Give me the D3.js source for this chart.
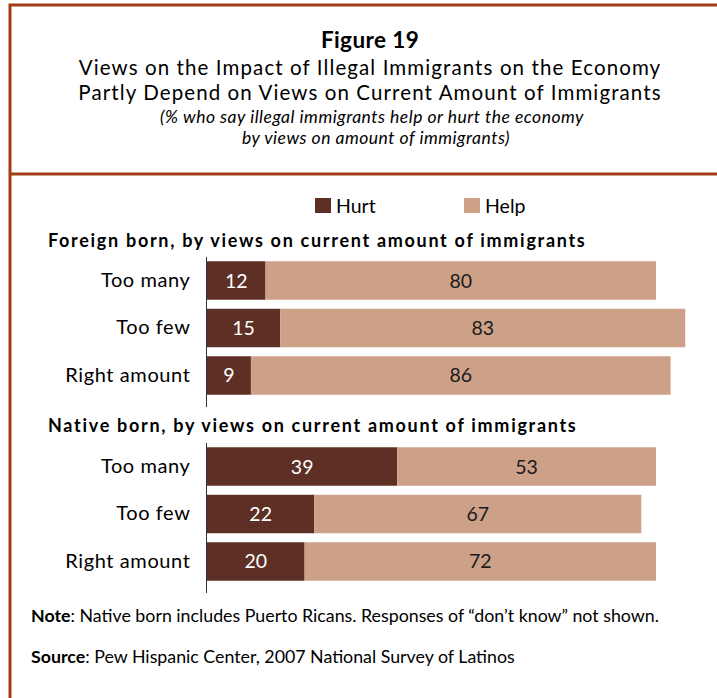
<!DOCTYPE html>
<html><head><meta charset="utf-8">
<script src="https://cdn.jsdelivr.net/npm/d3@7"></script>
<style>body{margin:0;background:#fff}svg{display:block}</style>
</head><body>
<script>
const categories = ["Too many", "Too few", "Right amount"];
const groups = ["Foreign born, by views on current amount of immigrants", "Native born, by views on current amount of immigrants"];
const foreignHurt = [12, 15, 9];
const foreignHelp = [80, 83, 86];
const nativeHurt = [39, 22, 20];
const nativeHelp = [53, 67, 72];
const seriesNames = ["Hurt", "Help"];
const colors = {Hurt: "#5e2f24", Help: "#cda088"};

const W = 717, H = 698;
const font = "Lato, 'Open Sans', sans-serif";
const svg = d3.select("body").append("svg").attr("width", W).attr("height", H);
const border = "#a23c14";

// frame
svg.append("rect").attr("x", 10).attr("y", 5).attr("width", W + 10).attr("height", H + 10)
  .attr("fill", "none").attr("stroke", border).attr("stroke-width", 3);
svg.append("line").attr("x1", 10).attr("x2", W).attr("y1", 174).attr("y2", 174)
  .attr("stroke", border).attr("stroke-width", 3);

// titles
const tg = svg.append("g").attr("font-family", font).attr("fill", "#000").attr("text-anchor", "middle");
tg.append("text").attr("x", 370).attr("y", 48).attr("font-size", 22.5).attr("font-weight", "bold").attr("letter-spacing", 0.4).text("Figure 19");
tg.append("text").attr("x", 370).attr("y", 75).attr("font-size", 20.5).attr("letter-spacing", 1.1).text("Views on the Impact of Illegal Immigrants on the Economy");
tg.append("text").attr("x", 370).attr("y", 100).attr("font-size", 20.5).attr("letter-spacing", 1.1).text("Partly Depend on Views on Current Amount of Immigrants");
tg.append("text").attr("x", 372).attr("y", 123).attr("font-size", 17.5).attr("font-style", "italic").attr("letter-spacing", 0.5).text("(% who say illegal immigrants help or hurt the economy");
tg.append("text").attr("x", 376).attr("y", 144).attr("font-size", 17.5).attr("font-style", "italic").attr("letter-spacing", 0.5).text("by views on amount of immigrants)");

// legend
const legX = [315, 464];
seriesNames.forEach((s, i) => {
  svg.append("rect").attr("x", legX[i]).attr("y", 198).attr("width", 16).attr("height", 15).attr("fill", colors[s]);
  svg.append("text").attr("x", legX[i] + 21).attr("y", 213).attr("font-family", font).attr("font-size", 19.5).text(s);
});

const x = d3.scaleLinear().domain([0, 100]).range([207, 695]);

function panel(title, titleY, top, hurt, help) {
  svg.append("text").attr("x", 48).attr("y", titleY).attr("font-family", font).attr("font-size", 18)
    .attr("font-weight", "bold").attr("letter-spacing", 1.7).text(title);
  const y = d3.scaleBand().domain(categories).range([top, top + 142]).paddingInner(0.19).paddingOuter(0.09);
  const g = svg.append("g");
  const rows = categories.map((c, i) => ({c, hurt: hurt[i], help: help[i]}));
  g.selectAll(".hurt").data(rows).join("rect")
    .attr("x", x(0)).attr("y", d => y(d.c)).attr("width", d => x(d.hurt) - x(0)).attr("height", y.bandwidth())
    .attr("fill", colors.Hurt);
  g.selectAll(".help").data(rows).join("rect")
    .attr("x", d => x(d.hurt)).attr("y", d => y(d.c)).attr("width", d => x(d.hurt + d.help) - x(d.hurt)).attr("height", y.bandwidth())
    .attr("fill", colors.Help);
  g.selectAll(".lh").data(rows).join("text")
    .attr("x", d => (x(0) + x(d.hurt)) / 2).attr("y", d => y(d.c) + y.bandwidth() / 2 + 7)
    .attr("text-anchor", "middle").attr("font-family", font).attr("font-size", 19.5).attr("fill", "#fff")
    .text(d => d.hurt);
  g.selectAll(".lp").data(rows).join("text")
    .attr("x", d => (x(d.hurt) + x(d.hurt + d.help)) / 2).attr("y", d => y(d.c) + y.bandwidth() / 2 + 7)
    .attr("text-anchor", "middle").attr("font-family", font).attr("font-size", 19.5).attr("fill", "#1a1a1a")
    .text(d => d.help);
  const ax = g.append("g").attr("transform", `translate(${x(0) - 0.5},0)`)
    .call(d3.axisLeft(y).tickSize(0).tickPadding(16));
  ax.select(".domain").attr("stroke", "#333").attr("d", `M0,${top}V${top + 150}`);
  ax.selectAll("text").attr("font-family", font).attr("font-size", 20).attr("letter-spacing", 0.6).attr("fill", "#000");
}

panel(groups[0], 247, 257, foreignHurt, foreignHelp);
panel(groups[1], 432, 443, nativeHurt, nativeHelp);

// notes
const ng = svg.append("g").attr("font-family", font).attr("font-size", 17.8).attr("fill", "#000");
const n1 = ng.append("text").attr("x", 31).attr("y", 622);
n1.append("tspan").attr("font-weight", "bold").text("Note");
n1.append("tspan").text(": Native born includes Puerto Ricans.  Responses of \u201cdon\u2019t know\u201d not shown.");
const n2 = ng.append("text").attr("x", 31).attr("y", 663);
n2.append("tspan").attr("font-weight", "bold").text("Source");
n2.append("tspan").text(": Pew Hispanic Center, 2007 National Survey of Latinos");
</script>
</body></html>
